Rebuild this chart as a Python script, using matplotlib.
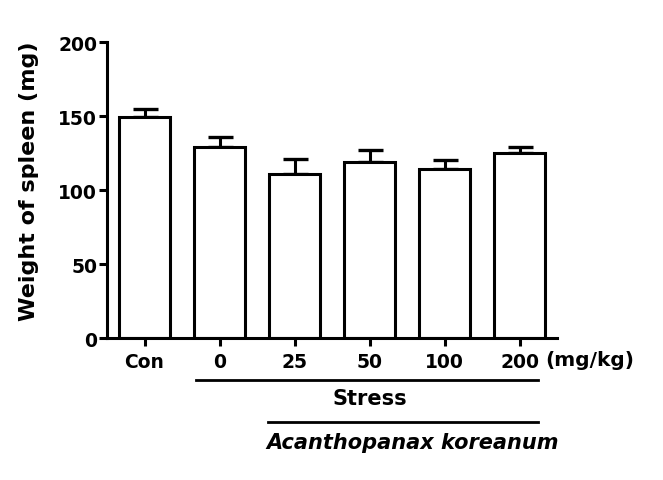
import matplotlib
matplotlib.use("Agg")
import matplotlib.pyplot as plt

plt.rcParams['font.family'] = ['DejaVu Sans']
plt.rcParams['font.weight'] = 'bold'

groups = ["Con", "0", "25", "50", "100", "200"]
spleen_weight = [149, 129, 111, 119, 114, 125]
sem = [6, 7, 10, 8, 6, 4]

fig = plt.figure(figsize=(6.63, 4.81), dpi=100)
ax = fig.add_axes([0.1614, 0.2952, 0.679, 0.6154])

x = range(len(groups))
ax.bar(x, spleen_weight, width=0.68, color="white", edgecolor="black", linewidth=2.2, zorder=2)
ax.errorbar(x, spleen_weight, yerr=[[0] * len(sem), sem], fmt="none", ecolor="black",
            elinewidth=2.2, capsize=9, capthick=2.4, zorder=1)

ax.set_xlim(-0.5, 5.5)
ax.set_ylim(0, 200)
ax.set_yticks([0, 50, 100, 150, 200])
ax.set_xticks(list(x))
ax.set_xticklabels(groups)
ax.tick_params(axis="both", width=2.2, length=6, labelsize=13.5, direction="out")
ax.tick_params(axis="x", pad=4)
ax.tick_params(axis="y", pad=1)
for lbl in ax.get_xticklabels() + ax.get_yticklabels():
    lbl.set_fontweight("bold")

for side in ["top", "right"]:
    ax.spines[side].set_visible(False)
for side in ["left", "bottom"]:
    ax.spines[side].set_linewidth(2.2)

ax.set_ylabel("Weight of spleen (mg)", fontsize=16, fontweight="bold")
ax.yaxis.set_label_coords(-0.151, 0.532)

# group labels below the axis
tr = ax.get_xaxis_transform()
ax.text(5.34, -0.071, "(mg/kg)", transform=tr, fontsize=14.5, fontweight="bold",
        ha="left", va="center")
ax.plot([0.68, 5.24], [-0.141, -0.141], color="black", lw=2.0, transform=tr, clip_on=False)
ax.text(3.0, -0.201, "Stress", transform=tr, fontsize=15, fontweight="bold",
        ha="center", va="center")
ax.plot([1.65, 5.24], [-0.285, -0.285], color="black", lw=2.0, transform=tr, clip_on=False)
ax.text(3.57, -0.351, "Acanthopanax koreanum", transform=tr, fontsize=15, fontweight="bold",
        style="italic", ha="center", va="center")

fig.savefig("out.png", dpi=100)
